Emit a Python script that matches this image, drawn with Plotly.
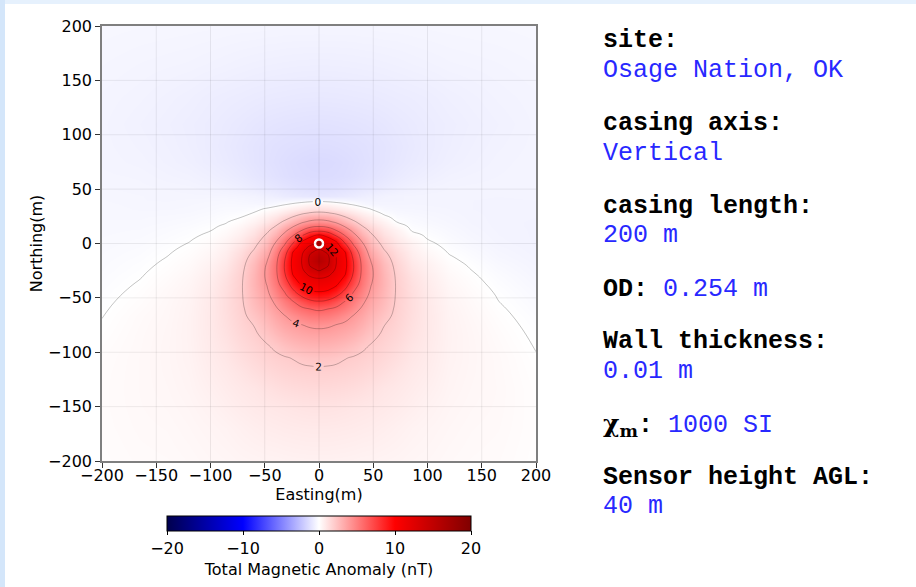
import plotly.graph_objects as go

# ---------------- data ----------------
easting = [-200, -165, -140, -120, -100, -86, -72, -60, -48, -40, -32, -24, -16, -8, 0,
           8, 16, 24, 32, 40, 48, 60, 72, 86, 100, 120, 140, 165, 200]
northing = [200, 165, 135, 110, 90, 75, 62, 52, 44, 40, 36, 32, 28, 24, 20, 16, 12, 8, 4, 0,
            -4, -8, -12, -16, -20, -24, -28, -32, -37, -42, -48, -54, -60, -67, -75, -84, -94,
            -105, -118, -133, -150, -170, -200]

# total magnetic anomaly (nT); one row per northing value (first row = 200 m)
anomaly = [
    [-0.31, -0.33, -0.34, -0.35, -0.36, -0.37, -0.38, -0.38, -0.39, -0.39, -0.40, -0.40, -0.40, -0.40, -0.40, -0.40, -0.40, -0.40, -0.40, -0.39, -0.39, -0.38, -0.38, -0.37, -0.36, -0.35, -0.34, -0.33, -0.31],
    [-0.37, -0.415, -0.44, -0.46, -0.5, -0.53, -0.56, -0.583, -0.603, -0.613, -0.622, -0.63, -0.637, -0.64, -0.645, -0.64, -0.637, -0.63, -0.622, -0.613, -0.603, -0.583, -0.56, -0.53, -0.5, -0.46, -0.44, -0.415, -0.37],
    [-0.42, -0.48, -0.545, -0.6, -0.68, -0.72, -0.755, -0.79, -0.822, -0.837, -0.848, -0.863, -0.875, -0.88, -0.885, -0.88, -0.875, -0.863, -0.848, -0.837, -0.822, -0.79, -0.755, -0.72, -0.68, -0.6, -0.545, -0.48, -0.42],
    [-0.44, -0.53, -0.6, -0.67, -0.75, -0.82, -0.89, -0.96, -1.02, -1.05, -1.074, -1.092, -1.108, -1.122, -1.13, -1.122, -1.108, -1.092, -1.074, -1.05, -1.02, -0.96, -0.89, -0.82, -0.75, -0.67, -0.6, -0.53, -0.44],
    [-0.43, -0.5, -0.57, -0.65, -0.76, -0.86, -0.96, -1.05, -1.13, -1.18, -1.21, -1.244, -1.272, -1.292, -1.30, -1.292, -1.272, -1.244, -1.21, -1.18, -1.13, -1.05, -0.96, -0.86, -0.76, -0.65, -0.57, -0.5, -0.43],
    [-0.42, -0.47, -0.54, -0.61, -0.73, -0.82, -0.93, -1.04, -1.15, -1.22, -1.28, -1.34, -1.39, -1.425, -1.44, -1.425, -1.39, -1.34, -1.28, -1.22, -1.15, -1.04, -0.93, -0.82, -0.73, -0.61, -0.54, -0.47, -0.42],
    [-0.40, -0.42, -0.48, -0.52, -0.62, -0.71, -0.82, -0.95, -1.07, -1.16, -1.24, -1.306, -1.343, -1.365, -1.38, -1.365, -1.343, -1.306, -1.24, -1.16, -1.07, -0.95, -0.82, -0.71, -0.62, -0.52, -0.48, -0.45, -0.42],
    [-0.37, -0.40, -0.42, -0.44, -0.5, -0.57, -0.67, -0.78, -0.91, -0.98, -1.05, -1.13, -1.2, -1.236, -1.25, -1.236, -1.2, -1.13, -1.05, -0.98, -0.91, -0.78, -0.67, -0.57, -0.5, -0.45, -0.44, -0.43, -0.42],
    [-0.34, -0.37, -0.39, -0.40, -0.40, -0.41, -0.44, -0.48, -0.6, -0.68, -0.77, -0.84, -0.9, -0.934, -0.95, -0.934, -0.9, -0.84, -0.77, -0.68, -0.6, -0.5, -0.46, -0.44, -0.43, -0.43, -0.44, -0.45, -0.44],
    [-0.33, -0.37, -0.38, -0.36, -0.34, -0.33, -0.36, -0.42, -0.46, -0.47, -0.47, -0.42, -0.36, -0.31, -0.3, -0.31, -0.36, -0.42, -0.47, -0.5, -0.5, -0.47, -0.46, -0.44, -0.44, -0.44, -0.45, -0.46, -0.45],
    [-0.32, -0.35, -0.36, -0.34, -0.31, -0.28, -0.3, -0.33, -0.35, -0.25, -0.06, 0.1, 0.27, 0.43, 0.5, 0.43, 0.27, 0.1, -0.08, -0.3, -0.4, -0.42, -0.42, -0.41, -0.42, -0.43, -0.45, -0.47, -0.46],
    [-0.31, -0.34, -0.34, -0.32, -0.27, -0.22, -0.22, -0.15, 0.05, 0.25, 0.46, 0.71, 0.94, 1.15, 1.24, 1.15, 0.94, 0.71, 0.46, 0.21, -0.05, -0.3, -0.36, -0.37, -0.39, -0.41, -0.45, -0.47, -0.47],
    [-0.30, -0.32, -0.31, -0.29, -0.23, -0.16, -0.12, 0.02, 0.36, 0.61, 0.93, 1.35, 1.77, 2.09, 2.22, 2.09, 1.77, 1.35, 0.93, 0.61, 0.32, -0.12, -0.28, -0.32, -0.35, -0.39, -0.44, -0.47, -0.48],
    [-0.30, -0.30, -0.28, -0.25, -0.18, -0.1, 0.0, 0.27, 0.66, 1.01, 1.53, 2.11, 2.72, 3.16, 3.32, 3.16, 2.72, 2.11, 1.53, 1.01, 0.66, 0.17, -0.18, -0.26, -0.31, -0.37, -0.43, -0.47, -0.49],
    [-0.29, -0.29, -0.25, -0.21, -0.13, -0.04, 0.17, 0.5, 0.99, 1.51, 2.17, 2.98, 3.71, 4.27, 4.5, 4.27, 3.71, 2.98, 2.17, 1.51, 0.99, 0.5, -0.03, -0.2, -0.27, -0.34, -0.42, -0.47, -0.5],
    [-0.28, -0.27, -0.22, -0.17, -0.07, 0.06, 0.34, 0.73, 1.37, 2.01, 2.88, 3.84, 4.83, 5.56, 5.83, 5.56, 4.83, 3.84, 2.88, 2.01, 1.37, 0.73, 0.24, -0.13, -0.21, -0.31, -0.4, -0.47, -0.5],
    [-0.27, -0.25, -0.19, -0.12, -0.01, 0.17, 0.5, 0.96, 1.76, 2.54, 3.59, 4.79, 6.0, 7.13, 7.56, 7.13, 6.0, 4.79, 3.59, 2.54, 1.76, 0.96, 0.5, -0.05, -0.15, -0.27, -0.38, -0.46, -0.5],
    [-0.26, -0.23, -0.16, -0.08, 0.06, 0.28, 0.66, 1.2, 2.12, 3.07, 4.29, 5.76, 7.51, 9.23, 10.0, 9.23, 7.51, 5.76, 4.29, 3.07, 2.12, 1.2, 0.66, 0.14, -0.08, -0.23, -0.35, -0.45, -0.5],
    [-0.25, -0.21, -0.13, -0.034, 0.13, 0.39, 0.82, 1.43, 2.42, 3.6, 4.99, 6.88, 9.33, 10.62, 11.0, 10.62, 9.33, 6.88, 4.99, 3.6, 2.42, 1.43, 0.82, 0.32, 0.0, -0.19, -0.32, -0.44, -0.5],
    [-0.24, -0.19, -0.10, 0.011, 0.2, 0.5, 0.98, 1.67, 2.73, 4.14, 5.69, 8.05, 10.47, 11.52, 12.0, 11.52, 10.47, 8.05, 5.69, 4.14, 2.73, 1.67, 0.98, 0.5, 0.09, -0.14, -0.28, -0.42, -0.5],
    [-0.23, -0.17, -0.064, 0.056, 0.27, 0.58, 1.16, 1.9, 3.03, 4.63, 6.43, 9.12, 11.1, 12.56, 13.6, 12.56, 11.1, 9.12, 6.43, 4.63, 3.03, 1.9, 1.16, 0.58, 0.19, -0.09, -0.24, -0.39, -0.49],
    [-0.22, -0.15, -0.032, 0.10, 0.34, 0.67, 1.32, 2.15, 3.34, 5.03, 7.08, 10.06, 11.59, 13.75, 14.63, 13.75, 11.59, 10.06, 7.08, 5.03, 3.34, 2.15, 1.32, 0.67, 0.28, -0.03, -0.19, -0.36, -0.48],
    [-0.21, -0.125, 0.0, 0.145, 0.41, 0.76, 1.46, 2.37, 3.64, 5.33, 7.57, 10.33, 11.9, 14.33, 15.47, 14.33, 11.9, 10.33, 7.57, 5.33, 3.64, 2.37, 1.46, 0.76, 0.38, 0.03, -0.14, -0.33, -0.46],
    [-0.20, -0.10, 0.032, 0.19, 0.48, 0.85, 1.58, 2.55, 3.95, 5.53, 7.87, 10.46, 12.0, 14.45, 15.9, 14.45, 12.0, 10.46, 7.87, 5.53, 3.95, 2.55, 1.58, 0.85, 0.47, 0.09, -0.09, -0.29, -0.44],
    [-0.19, -0.077, 0.064, 0.23, 0.55, 0.93, 1.67, 2.69, 4.12, 5.64, 7.99, 10.45, 11.91, 14.2, 15.1, 14.2, 11.91, 10.45, 7.99, 5.64, 4.12, 2.69, 1.67, 0.93, 0.55, 0.15, -0.04, -0.25, -0.42],
    [-0.18, -0.054, 0.096, 0.27, 0.61, 1.02, 1.74, 2.79, 4.2, 5.67, 7.96, 10.34, 11.67, 13.43, 14.3, 13.43, 11.67, 10.34, 7.96, 5.67, 4.2, 2.79, 1.74, 1.02, 0.61, 0.2, 0.0, -0.21, -0.4],
    [-0.16, -0.03, 0.128, 0.31, 0.67, 1.1, 1.8, 2.86, 4.22, 5.63, 7.77, 10.12, 11.33, 12.45, 13.23, 12.45, 11.33, 10.12, 7.77, 5.63, 4.22, 2.86, 1.8, 1.1, 0.67, 0.25, 0.04, -0.17, -0.38],
    [-0.15, -0.006, 0.16, 0.35, 0.71, 1.16, 1.84, 2.89, 4.18, 5.53, 7.46, 9.64, 10.91, 11.69, 12.0, 11.69, 10.91, 9.64, 7.46, 5.53, 4.18, 2.89, 1.84, 1.16, 0.71, 0.29, 0.08, -0.14, -0.35],
    [-0.13, 0.024, 0.20, 0.39, 0.76, 1.22, 1.87, 2.9, 4.06, 5.32, 6.92, 8.83, 10.33, 10.97, 11.23, 10.97, 10.33, 8.83, 6.92, 5.32, 4.06, 2.9, 1.87, 1.22, 0.76, 0.33, 0.12, -0.1, -0.32],
    [-0.11, 0.054, 0.24, 0.42, 0.8, 1.26, 1.88, 2.86, 3.88, 5.05, 6.25, 8.03, 9.48, 10.25, 10.46, 10.25, 9.48, 8.03, 6.25, 5.05, 3.88, 2.86, 1.88, 1.26, 0.8, 0.37, 0.16, -0.06, -0.29],
    [-0.085, 0.09, 0.27, 0.45, 0.84, 1.29, 1.87, 2.78, 3.64, 4.66, 5.6, 6.87, 8.16, 8.97, 9.25, 8.97, 8.16, 6.87, 5.6, 4.66, 3.64, 2.78, 1.87, 1.29, 0.84, 0.41, 0.2, -0.02, -0.25],
    [-0.06, 0.125, 0.29, 0.47, 0.86, 1.3, 1.85, 2.66, 3.41, 4.2, 5.04, 5.84, 6.8, 7.51, 7.75, 7.51, 6.8, 5.84, 5.04, 4.2, 3.41, 2.66, 1.85, 1.3, 0.86, 0.44, 0.24, 0.01, -0.22],
    [-0.036, 0.16, 0.31, 0.49, 0.87, 1.3, 1.81, 2.5, 3.18, 3.83, 4.48, 5.18, 5.7, 6.04, 6.25, 6.04, 5.7, 5.18, 4.48, 3.83, 3.18, 2.5, 1.81, 1.3, 0.87, 0.47, 0.27, 0.05, -0.18],
    [-0.008, 0.20, 0.32, 0.50, 0.88, 1.27, 1.75, 2.29, 2.91, 3.48, 3.9, 4.41, 4.87, 5.15, 5.25, 5.15, 4.87, 4.41, 3.9, 3.48, 2.91, 2.29, 1.75, 1.27, 0.88, 0.49, 0.3, 0.09, -0.14],
    [0.024, 0.22, 0.34, 0.51, 0.87, 1.23, 1.67, 2.02, 2.61, 3.09, 3.47, 3.76, 3.96, 4.17, 4.25, 4.17, 3.96, 3.76, 3.47, 3.09, 2.61, 2.02, 1.67, 1.23, 0.87, 0.5, 0.33, 0.13, -0.1],
    [0.06, 0.24, 0.35, 0.51, 0.85, 1.16, 1.56, 1.85, 2.26, 2.65, 2.98, 3.24, 3.43, 3.54, 3.58, 3.54, 3.43, 3.24, 2.98, 2.65, 2.26, 1.85, 1.56, 1.16, 0.85, 0.51, 0.35, 0.17, -0.06],
    [0.10, 0.25, 0.36, 0.50, 0.82, 1.06, 1.42, 1.68, 1.94, 2.16, 2.44, 2.67, 2.84, 2.94, 2.97, 2.94, 2.84, 2.67, 2.44, 2.16, 1.94, 1.68, 1.42, 1.06, 0.82, 0.5, 0.36, 0.2, -0.02],
    [0.13, 0.26, 0.36, 0.49, 0.77, 0.96, 1.26, 1.49, 1.72, 1.84, 1.94, 2.04, 2.19, 2.27, 2.3, 2.27, 2.19, 2.04, 1.94, 1.84, 1.72, 1.49, 1.26, 0.96, 0.77, 0.49, 0.36, 0.23, 0.02],
    [0.15, 0.26, 0.35, 0.46, 0.71, 0.86, 1.06, 1.27, 1.47, 1.58, 1.66, 1.73, 1.78, 1.81, 1.82, 1.81, 1.78, 1.73, 1.66, 1.58, 1.47, 1.27, 1.06, 0.86, 0.71, 0.46, 0.35, 0.24, 0.05],
    [0.16, 0.26, 0.33, 0.43, 0.62, 0.76, 0.9, 1.0, 1.17, 1.27, 1.35, 1.41, 1.45, 1.48, 1.49, 1.48, 1.45, 1.41, 1.35, 1.27, 1.17, 1.0, 0.9, 0.76, 0.62, 0.43, 0.33, 0.25, 0.08],
    [0.16, 0.25, 0.30, 0.38, 0.51, 0.64, 0.76, 0.85, 0.92, 0.96, 0.99, 1.04, 1.08, 1.1, 1.11, 1.1, 1.08, 1.04, 0.99, 0.96, 0.92, 0.85, 0.76, 0.64, 0.51, 0.38, 0.3, 0.24, 0.09],
    [0.15, 0.23, 0.26, 0.33, 0.42, 0.49, 0.59, 0.67, 0.74, 0.77, 0.8, 0.82, 0.84, 0.85, 0.85, 0.85, 0.84, 0.82, 0.8, 0.77, 0.74, 0.67, 0.59, 0.49, 0.42, 0.33, 0.26, 0.22, 0.09],
    [0.12, 0.19, 0.21, 0.26, 0.33, 0.37, 0.42, 0.45, 0.48, 0.49, 0.51, 0.53, 0.54, 0.55, 0.55, 0.55, 0.54, 0.53, 0.51, 0.49, 0.48, 0.45, 0.42, 0.37, 0.33, 0.26, 0.21, 0.18, 0.07],
]

casing_x = [0]
casing_y = [0]

contour_start, contour_end, contour_step = 0, 14, 2
axis_ticks = [-200, -150, -100, -50, 0, 50, 100, 150, 200]
cbar_ticks = [-20, -10, 0, 10, 20]

info_labels = ["site:", "casing axis:", "casing length:", "OD:", "Wall thickness:",
               "<span style='font-family:DejaVu Serif'>χ<sub>m</sub></span>:", "Sensor height AGL:"]
info_values = ["Osage Nation, OK", "Vertical", "200 m", "0.254 m", "0.01 m", "1000 SI", "40 m"]
info_inline = [False, False, False, True, False, True, False]

# ---------------- figure ----------------
W, H = 916, 587
ML, MR, MT, MB = 102, 380, 26, 126
PW, PH = W - ML - MR, H - MT - MB


def px_x(px):
    return (px - ML) / PW


def px_y(py):
    return (H - MB - py) / PH


y_asc = northing[::-1]
z_asc = anomaly[::-1]

seismic = [[0.0, "rgb(0,0,77)"], [0.25, "rgb(0,0,255)"], [0.5, "rgb(255,255,255)"],
           [0.75, "rgb(255,0,0)"], [1.0, "rgb(128,0,0)"]]

font_main = "DejaVu Sans"

fig = go.Figure()

fig.add_trace(go.Heatmap(
    x=easting, y=y_asc, z=z_asc, zsmooth="best",
    colorscale=seismic, zmin=-20, zmax=20, hoverinfo="skip",
    colorbar=dict(
        orientation="h", x=px_x(319), xanchor="center",
        y=px_y(516), yanchor="top",
        len=304, lenmode="pixels", thickness=15, thicknessmode="pixels",
        xpad=0, ypad=0,
        outlinewidth=1, outlinecolor="black",
        tickvals=cbar_ticks, ticks="outside", ticklen=4, tickwidth=1, tickcolor="black",
        tickfont=dict(family=font_main, size=16, color="black"),
        title=dict(text="Total Magnetic Anomaly (nT)", side="bottom",
                   font=dict(family=font_main, size=16, color="black")),
    ),
))

fig.add_trace(go.Contour(
    x=easting, y=y_asc, z=z_asc,
    contours=dict(start=contour_start, end=contour_end, size=contour_step,
                  coloring="none", showlabels=True,
                  labelfont=dict(family=font_main, size=10.5, color="black")),
    line=dict(color="rgba(0,0,0,0.3)", width=0.8, smoothing=1.3),
    showscale=False, hoverinfo="skip",
))

fig.add_trace(go.Scatter(
    x=casing_x, y=casing_y, mode="markers", hoverinfo="skip",
    marker=dict(size=8, color="#b00000", line=dict(color="white", width=2.5)),
))

# light grid lines drawn above the field
shapes = []
for t in axis_ticks[1:-1]:
    shapes.append(dict(type="line", xref="x", yref="y", x0=t, x1=t, y0=axis_ticks[0], y1=axis_ticks[-1],
                       layer="above", line=dict(color="rgba(0,0,0,0.07)", width=1)))
    shapes.append(dict(type="line", xref="x", yref="y", y0=t, y1=t, x0=axis_ticks[0], x1=axis_ticks[-1],
                       layer="above", line=dict(color="rgba(0,0,0,0.07)", width=1)))
# page border strips (light blue)
shapes.append(dict(type="rect", xref="paper", yref="paper", x0=px_x(0), x1=px_x(W), y0=px_y(0), y1=px_y(4),
                   layer="below", line=dict(width=0), fillcolor="#e6f1fd"))
shapes.append(dict(type="rect", xref="paper", yref="paper", x0=px_x(0), x1=px_x(5), y0=px_y(0), y1=px_y(H),
                   layer="below", line=dict(width=0), fillcolor="#d4e6fa"))

# info text on the right
annotations = []
mono = "Liberation Mono, Courier New, monospace"
blue = "rgb(40,40,255)"
y_pos = 40
for lab, val, inline in zip(info_labels, info_values, info_inline):
    if inline:
        txt = "<b>%s</b> <span style='color:%s'>%s</span>" % (lab, blue, val)
        annotations.append(dict(xref="paper", yref="paper", x=px_x(601), y=px_y(y_pos), xanchor="left",
                                yanchor="middle", text=txt, showarrow=False,
                                font=dict(family=mono, size=25, color="black")))
        y_pos += 52.5
    else:
        annotations.append(dict(xref="paper", yref="paper", x=px_x(601), y=px_y(y_pos), xanchor="left",
                                yanchor="middle", text="<b>%s</b>" % lab, showarrow=False,
                                font=dict(family=mono, size=25, color="black")))
        annotations.append(dict(xref="paper", yref="paper", x=px_x(601), y=px_y(y_pos + 30), xanchor="left",
                                yanchor="middle", text=val, showarrow=False,
                                font=dict(family=mono, size=25, color=blue)))
        y_pos += 83

axis_common = dict(
    range=[axis_ticks[0], axis_ticks[-1]], tickvals=axis_ticks, showgrid=False, zeroline=False,
    showline=True, linecolor="#7f7f7f", linewidth=1.5, mirror=True,
    ticks="outside", ticklen=5, tickwidth=1.2, tickcolor="#333333",
    tickfont=dict(family=font_main, size=16, color="black"),
)

fig.update_layout(
    width=W, height=H, margin=dict(l=ML, r=MR, t=MT, b=MB, autoexpand=False),
    paper_bgcolor="white", plot_bgcolor="white", showlegend=False,
    xaxis=dict(**axis_common, ticklabelstandoff=-6,
               title=dict(text="Easting(m)", standoff=2,
                          font=dict(family=font_main, size=16, color="black"))),
    yaxis=dict(**axis_common, title=dict(text="Northing(m)", standoff=1,
                                         font=dict(family=font_main, size=16, color="black"))),
    shapes=shapes, annotations=annotations,
)

fig.write_html("out.html", config={"displayModeBar": False},
               post_script="document.body.style.margin='0';document.body.style.padding='0';")
